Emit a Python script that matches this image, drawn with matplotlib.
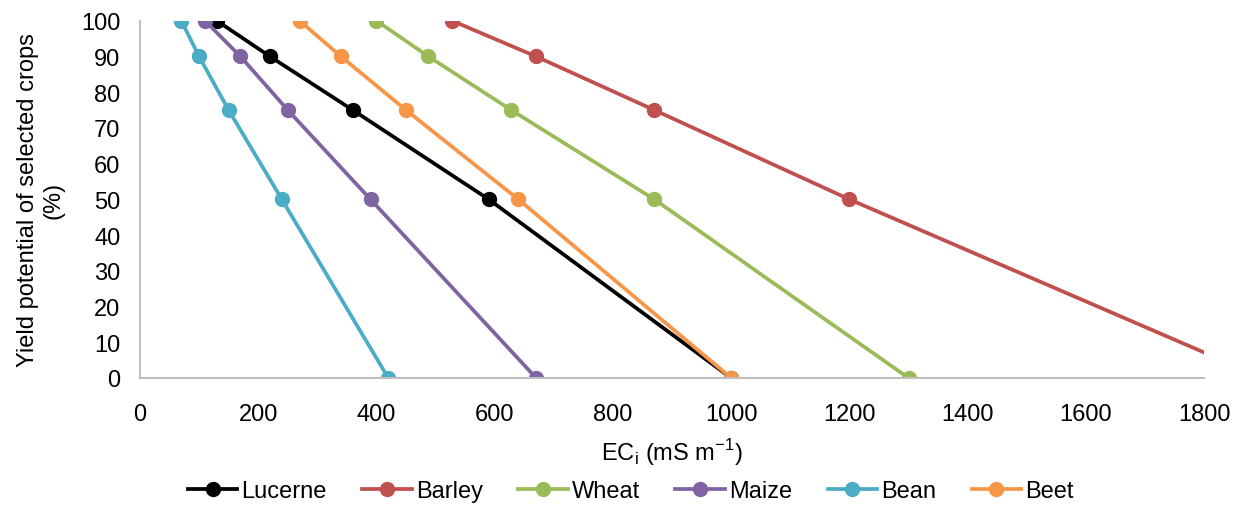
import matplotlib.pyplot as plt

plt.rcParams['font.family'] = ['Liberation Sans', 'DejaVu Sans']

# yield potential (%) and the matching EC_i (mS/m) for each crop
yield_pct = [100, 90, 75, 50, 0]
lucerne = [130, 220, 360, 590, 1000]
barley = [528, 670, 870, 1200, 1900]
wheat = [400, 488, 628, 870, 1300]
maize = [110, 170, 250, 390, 670]
bean = [70, 100, 150, 240, 420]
beet = [270, 340, 450, 640, 1000]

names = ['Lucerne', 'Barley', 'Wheat', 'Maize', 'Bean', 'Beet']
colors = ['#000000', '#c0504d', '#9bbb59', '#8064a2', '#4bacc6', '#f79646']

fig, ax = plt.subplots(figsize=(12.44, 5.06), dpi=100)
fig.subplots_adjust(left=0.1125, right=0.968, top=0.957, bottom=0.251)

for name, xs, c in zip(names, [lucerne, barley, wheat, maize, bean, beet], colors):
    ax.plot(xs, yield_pct, '-o', color=c, lw=2.7, ms=10, label=name)

ax.set_xlim(0, 1800)
ax.set_ylim(0, 100)
ax.set_xticks(range(0, 1801, 200))
ax.set_yticks(range(0, 101, 10))
ax.tick_params(labelsize=17, length=0)
ax.tick_params(axis='x', pad=18)
ax.tick_params(axis='y', pad=14)

for s in ['top', 'right']:
    ax.spines[s].set_visible(False)
for s in ['left', 'bottom']:
    ax.spines[s].set_color('#bfbfbf')
    ax.spines[s].set_linewidth(1.5)

ax.set_xlabel('EC$_\\mathregular{i}$ (mS m$^\\mathregular{-1}$)', fontsize=17, labelpad=8)
ax.set_ylabel('Yield potential of selected crops\n(%)', fontsize=17, labelpad=12)

fig.legend(loc='center', bbox_to_anchor=(0.507, 0.028), ncol=6, frameon=False,
           fontsize=17, handlelength=2.1, handletextpad=0.17, columnspacing=1.5,
           borderpad=0)

fig.savefig('out.png', dpi=100)
